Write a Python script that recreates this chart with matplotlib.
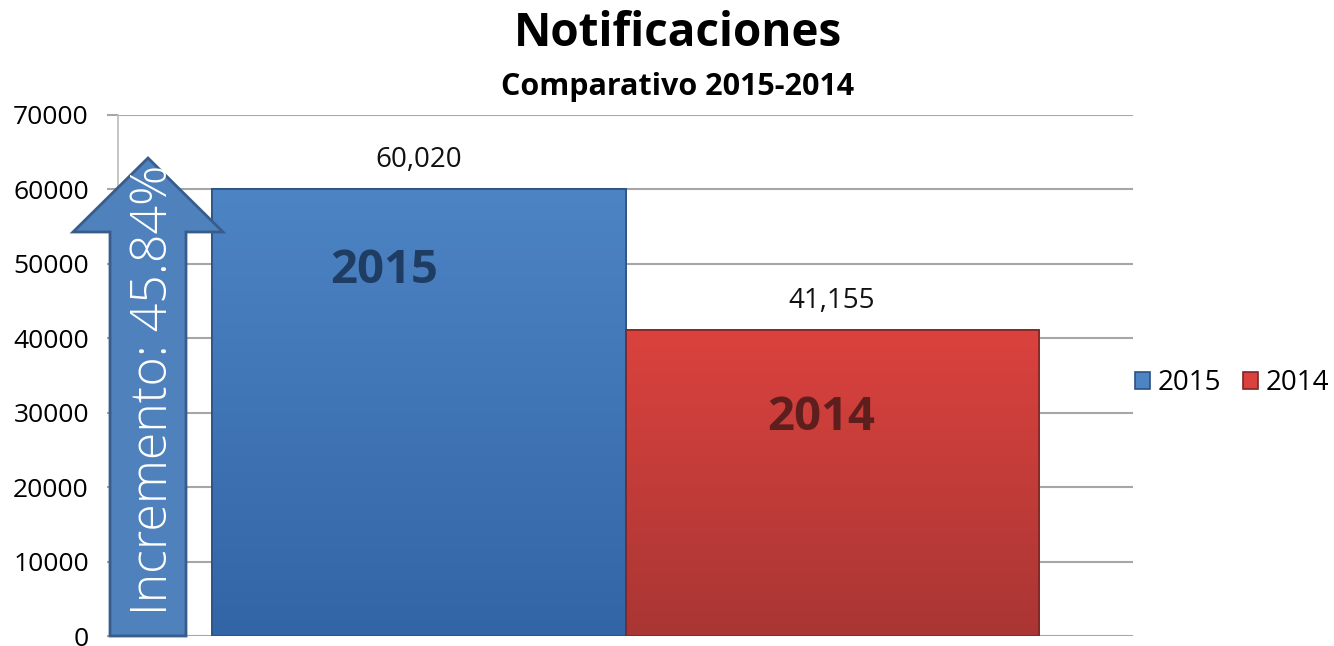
import matplotlib
matplotlib.use("Agg")
import matplotlib.pyplot as plt
from matplotlib.patches import Polygon
from matplotlib.colors import LinearSegmentedColormap
import numpy as np

W, H = 1334, 646

years = ["2015", "2014"]
values = [60020, 41155]
value_labels = ["60,020", "41,155"]
increment_label = "Incremento: 45.84%"
yticks = [0, 10000, 20000, 30000, 40000, 50000, 60000, 70000]

top_colors = ["#4d84c4", "#db423e"]
bottom_colors = ["#3265a6", "#a93634"]
edge_colors = ["#2a5283", "#7e2725"]
inner_colors = ["#1f3d63", "#5c1f1d"]

plt.rcParams["font.family"] = ["Open Sans", "DejaVu Sans"]

fig = plt.figure(figsize=(W / 100, H / 100), dpi=100)
ax = fig.add_axes([118 / W, 1 - 636 / H, (1133 - 118) / W, (636 - 115) / H])

offsets = [-0.2035, 0.2035]
width = 0.407
# where the big year labels sit inside the bars (axis units / data units)
inner_dx = [-0.0345, -0.0105]
inner_dy = [-10850, -11865]

bars = []
for i in range(len(years)):
    b = ax.bar(offsets[i], values[i], width=width, color=top_colors[i],
               edgecolor=edge_colors[i], linewidth=1.2, zorder=3, label=years[i])
    bars.append(b)
    rect = b[0]
    cmap = LinearSegmentedColormap.from_list("g%d" % i, [top_colors[i], bottom_colors[i]])
    grad = np.linspace(0, 1, 256).reshape(-1, 1)
    x0 = rect.get_x()
    im = ax.imshow(grad, cmap=cmap, aspect="auto", zorder=3.5,
                   extent=[x0, x0 + rect.get_width(), 0, rect.get_height()])
    im.set_clip_path(rect)
    ax.bar(offsets[i], values[i], width=width, color="none",
           edgecolor=edge_colors[i], linewidth=1.2, zorder=4)
    ax.text(offsets[i], values[i] + 3900, value_labels[i], ha="center", va="center",
            fontsize=20, color="#111111", zorder=5)
    ax.text(offsets[i] + inner_dx[i], values[i] + inner_dy[i], years[i],
            ha="center", va="center", fontsize=34, fontweight="bold",
            color=inner_colors[i], zorder=5)

ax.set_xlim(-0.5, 0.5)
ax.set_ylim(0, 70000)
ax.set_yticks(yticks)
ax.set_yticklabels([str(t) for t in yticks], fontsize=19)
ax.set_xticks([])
ax.grid(axis="y", color="#a6a6a6", linewidth=1.5, zorder=0)
ax.tick_params(axis="y", length=8, width=1.5, color="#a6a6a6", pad=13)
for s in ["top", "right", "bottom"]:
    ax.spines[s].set_visible(False)
ax.spines["left"].set_color("#bbbbbb")
ax.spines["left"].set_linewidth(1.2)

# arrow in figure pixels
arrow_px = [(110, 636), (110, 232), (73, 232), (148, 158), (223, 232),
            (186, 232), (186, 636)]
arrow = Polygon([(x / W, 1 - y / H) for x, y in arrow_px], closed=True,
                transform=fig.transFigure, facecolor="#4f81bd",
                edgecolor="#385d8a", linewidth=2, zorder=10)
fig.patches.append(arrow)
fig.text(154 / W, 1 - 390 / H, increment_label, rotation=90, ha="center", va="center",
         fontsize=36, color="white", fontweight="light", zorder=11)

fig.text(678 / W, 1 - 33 / H, "Notificaciones", ha="center", va="center",
         fontsize=33, fontweight="bold", color="black")
fig.text(678 / W, 1 - 87 / H, "Comparativo 2015-2014", ha="center", va="center",
         fontsize=22, fontweight="bold", color="black")

leg = ax.legend(handles=[b[0] for b in bars], labels=years, loc="center left",
                bbox_to_anchor=(1.002, 1 - (383 - 115) / (636 - 115)), ncol=2,
                frameon=False, fontsize=20, handlelength=0.55, handleheight=0.55,
                handletextpad=0.25, columnspacing=0.8, borderpad=0,
                borderaxespad=0)

fig.savefig("out.png", dpi=100)
